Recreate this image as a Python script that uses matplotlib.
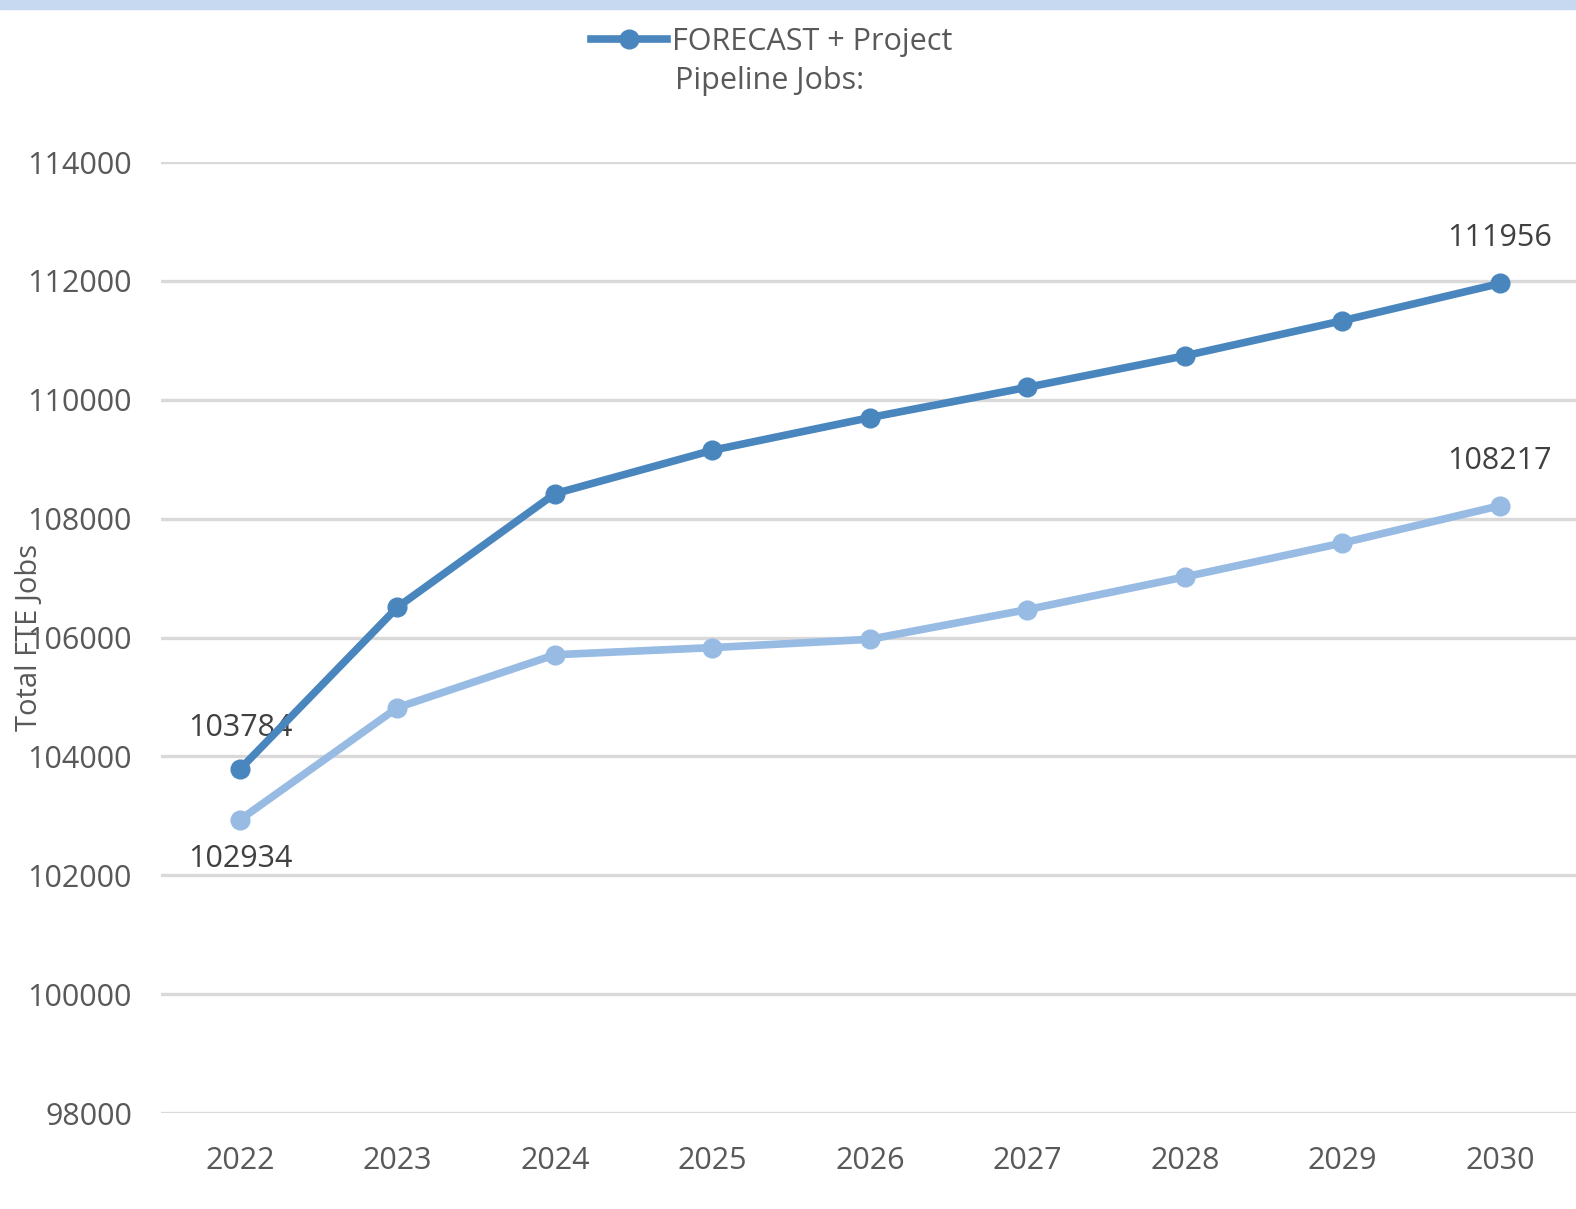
import numpy as np
import matplotlib.pyplot as plt
from matplotlib.lines import Line2D

years = ["2022", "2023", "2024", "2025", "2026", "2027", "2028", "2029", "2030"]
forecast_pipeline = [103784, 106510, 108420, 109150, 109700, 110210, 110740, 111330, 111956]
forecast_base = [102934, 104820, 105710, 105830, 105970, 106470, 107020, 107590, 108217]

dark = "#4A86BE"
light = "#97BBE3"
grid_c = "#D9D9D9"
text_c = "#595959"
label_c = "#404040"

plt.rcParams['font.family'] = ['Open Sans', 'DejaVu Sans']

fig = plt.figure(figsize=(15.76, 12.09), dpi=100)
ax = fig.add_axes([0.1023, 0.0794, 0.8994, 0.7866])

x = np.arange(len(years))
ax.plot(x, forecast_base, color=light, lw=5.5, marker='o', ms=13.5, zorder=3)
ax.plot(x, forecast_pipeline, color=dark, lw=5.5, marker='o', ms=13.5, zorder=4)

ax.set_xlim(-0.5, len(years) - 0.5)
ax.set_ylim(98000, 114000)
ax.set_yticks(np.arange(98000, 114001, 2000))
ax.set_xticks(x)
ax.set_xticklabels(years)
ax.yaxis.grid(True, color=grid_c, lw=2.4)
ax.set_axisbelow(True)
for s in ax.spines.values():
    s.set_visible(False)
ax.tick_params(length=0, labelsize=22, labelcolor=text_c)
ax.tick_params(axis='x', pad=24)
ax.tick_params(axis='y', pad=21)
ax.set_ylabel("Total FTE Jobs", fontsize=21, color=text_c)
ax.yaxis.set_label_coords(-0.083, 0.5)

# value labels on the first and last points
lab = dict(textcoords='offset points', ha='center', va='center', fontsize=22, color=label_c)
ax.annotate(f"{forecast_pipeline[0]}", (x[0], forecast_pipeline[0]), xytext=(0, 30), **lab)
ax.annotate(f"{forecast_base[0]}", (x[0], forecast_base[0]), xytext=(0, -28), **lab)
ax.annotate(f"{forecast_pipeline[-1]}", (x[-1], forecast_pipeline[-1]), xytext=(0, 33), **lab)
ax.annotate(f"{forecast_base[-1]}", (x[-1], forecast_base[-1]), xytext=(0, 32), **lab)

# legend entry for the pipeline series
handle = Line2D([], [], color=dark, lw=5.5, marker='o', ms=13.5)
fig.legend(handles=[handle], labels=["FORECAST + Project"], loc='center left',
           bbox_to_anchor=(0.375, 1 - 42 / 1209), frameon=False, fontsize=22,
           labelcolor=text_c, handlelength=2.5, handletextpad=0.15, borderpad=0, borderaxespad=0)
fig.text(675 / 1576, 1 - 81 / 1209, "Pipeline Jobs:", fontsize=22, color=text_c,
         ha='left', va='center')

# thin band along the top edge
fig.patches.append(plt.Rectangle((0, 1 - 9 / 1209), 1, 9 / 1209, transform=fig.transFigure,
                                 color="#C6D9F1", zorder=0))

fig.savefig("out.png", dpi=100)
